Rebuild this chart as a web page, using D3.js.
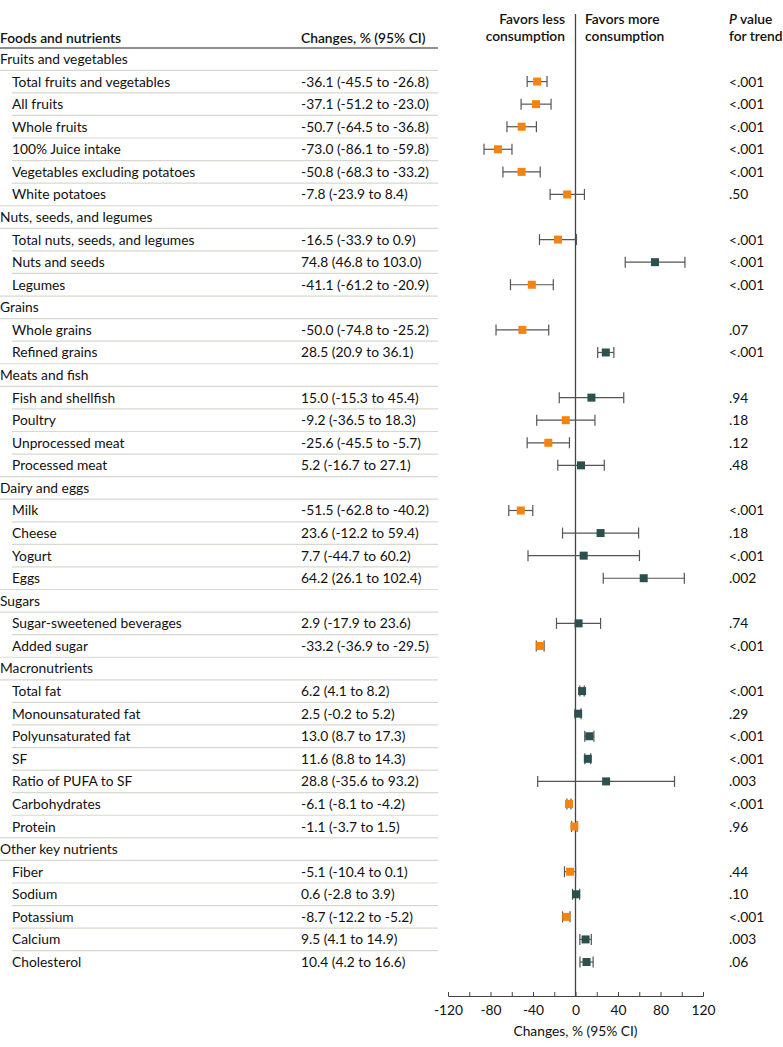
<!DOCTYPE html>
<html><head><meta charset="utf-8">
<script src="https://cdn.jsdelivr.net/npm/d3@7"></script>
<style>
body{margin:0;background:#fff;}
svg text{font-family:Lato,"Open Sans",sans-serif;fill:#111;}
</style></head>
<body><svg id="c" width="783" height="1047"></svg>
<script>
const labels = ["Fruits and vegetables","Total fruits and vegetables","All fruits","Whole fruits","100% Juice intake","Vegetables excluding potatoes","White potatoes",
"Nuts, seeds, and legumes","Total nuts, seeds, and legumes","Nuts and seeds","Legumes",
"Grains","Whole grains","Refined grains",
"Meats and fish","Fish and shellfish","Poultry","Unprocessed meat","Processed meat",
"Dairy and eggs","Milk","Cheese","Yogurt","Eggs",
"Sugars","Sugar-sweetened beverages","Added sugar",
"Macronutrients","Total fat","Monounsaturated fat","Polyunsaturated fat","SF","Ratio of PUFA to SF","Carbohydrates","Protein",
"Other key nutrients","Fiber","Sodium","Potassium","Calcium","Cholesterol"];
const isHeader = [1,0,0,0,0,0,0, 1,0,0,0, 1,0,0, 1,0,0,0,0, 1,0,0,0,0, 1,0,0, 1,0,0,0,0,0,0,0, 1,0,0,0,0,0];
const est = [null,-36.1,-37.1,-50.7,-73.0,-50.8,-7.8, null,-16.5,74.8,-41.1, null,-50.0,28.5, null,15.0,-9.2,-25.6,5.2, null,-51.5,23.6,7.7,64.2, null,2.9,-33.2, null,6.2,2.5,13.0,11.6,28.8,-6.1,-1.1, null,-5.1,0.6,-8.7,9.5,10.4];
const lo = [null,-45.5,-51.2,-64.5,-86.1,-68.3,-23.9, null,-33.9,46.8,-61.2, null,-74.8,20.9, null,-15.3,-36.5,-45.5,-16.7, null,-62.8,-12.2,-44.7,26.1, null,-17.9,-36.9, null,4.1,-0.2,8.7,8.8,-35.6,-8.1,-3.7, null,-10.4,-2.8,-12.2,4.1,4.2];
const hi = [null,-26.8,-23.0,-36.8,-59.8,-33.2,8.4, null,0.9,103.0,-20.9, null,-25.2,36.1, null,45.4,18.3,-5.7,27.1, null,-40.2,59.4,60.2,102.4, null,23.6,-29.5, null,8.2,5.2,17.3,14.3,93.2,-4.2,1.5, null,0.1,3.9,-5.2,14.9,16.6];
const pvals = [null,"<.001","<.001","<.001","<.001","<.001",".50", null,"<.001","<.001","<.001", null,".07","<.001", null,".94",".18",".12",".48", null,"<.001",".18","<.001",".002", null,".74","<.001", null,"<.001",".29","<.001","<.001",".003","<.001",".96", null,".44",".10","<.001",".003",".06"];
const xTicks = [-120,-100,-80,-60,-40,-20,0,20,40,60,80,100,120];
const xTickLabels = [-120,-80,-40,0,40,80,120];

const svg = d3.select("#c");
const FS = 13.8;
const rows = labels.map((l,i)=>({label:l,header:!!isHeader[i],est:est[i],lo:lo[i],hi:hi[i],p:pvals[i],i}));
const y = d3.scalePoint().domain(d3.range(rows.length)).range([59, 962]);
const step = y.step();
const x = d3.scaleLinear().domain([-120,120]).range([448,703]);
const ORANGE = "#f5830f", TEAL = "#2c504d";

// header
const hdr = svg.append("g").style("font-size", FS+"px").style("font-weight",600);
hdr.append("text").attr("x",0).attr("y",43).text("Foods and nutrients");
hdr.append("text").attr("x",301).attr("y",43).text("Changes, % (95% CI)");
hdr.append("text").attr("x",565).attr("y",24).attr("text-anchor","end").text("Favors less");
hdr.append("text").attr("x",565).attr("y",41).attr("text-anchor","end").text("consumption");
hdr.append("text").attr("x",585).attr("y",24).text("Favors more");
hdr.append("text").attr("x",585).attr("y",41).text("consumption");
const pt = hdr.append("text").attr("x",729).attr("y",24);
pt.append("tspan").style("font-style","italic").text("P");
pt.append("tspan").text(" value");
hdr.append("text").attr("x",729).attr("y",41).text("for trend");
svg.append("line").attr("x1",0).attr("x2",438).attr("y1",48).attr("y2",48).attr("stroke","#222").attr("stroke-width",1.2);

// separators
rows.forEach((r,i)=>{
  if(i===rows.length-1) return;
  const next = rows[i+1];
  const yy = y(i)+step/2;
  const x1 = (r.header || next.header) ? 0 : 12;
  svg.append("line").attr("x1",x1).attr("x2",438).attr("y1",yy).attr("y2",yy).attr("stroke","#d8d8cf").attr("stroke-width",1.2);
});

// labels
const tg = svg.append("g").style("font-size",FS+"px");
tg.selectAll("text.lab").data(rows).join("text").attr("class","lab")
  .attr("x",d=>d.header?0:12).attr("y",d=>y(d.i)).attr("dy","0.36em").text(d=>d.label);
const items = rows.filter(d=>!d.header);
tg.selectAll("text.val").data(items).join("text").attr("class","val")
  .attr("x",301).attr("y",d=>y(d.i)).attr("dy","0.36em")
  .text(d=>`${d.est.toFixed(1)} (${d.lo.toFixed(1)} to ${d.hi.toFixed(1)})`);
tg.selectAll("text.p").data(items).join("text").attr("class","p")
  .attr("x",729).attr("y",d=>y(d.i)).attr("dy","0.36em").text(d=>d.p);

// zero line
svg.append("line").attr("x1",x(0)).attr("x2",x(0)).attr("y1",14).attr("y2",996).attr("stroke","#444").attr("stroke-width",1.3);

// CIs
const ci = svg.append("g").attr("stroke","#555").attr("stroke-width",1.2);
ci.selectAll("line.ci").data(items).join("line").attr("class","ci")
  .attr("x1",d=>x(d.lo)).attr("x2",d=>x(d.hi)).attr("y1",d=>y(d.i)).attr("y2",d=>y(d.i));
ci.selectAll("line.c1").data(items).join("line").attr("class","c1")
  .attr("x1",d=>x(d.lo)).attr("x2",d=>x(d.lo)).attr("y1",d=>y(d.i)-5.5).attr("y2",d=>y(d.i)+5.5);
ci.selectAll("line.c2").data(items).join("line").attr("class","c2")
  .attr("x1",d=>x(d.hi)).attr("x2",d=>x(d.hi)).attr("y1",d=>y(d.i)-5.5).attr("y2",d=>y(d.i)+5.5);
svg.append("g").selectAll("rect").data(items).join("rect")
  .attr("x",d=>x(d.est)-4).attr("y",d=>y(d.i)-4).attr("width",8).attr("height",8)
  .attr("fill",d=>d.est<0?ORANGE:TEAL);

// axis
const ax = d3.axisBottom(x).tickValues(xTicks).tickSize(-4)
  .tickFormat(d=>xTickLabels.includes(d)?d:"");
const ag = svg.append("g").attr("transform","translate(0,996)").call(ax);
ag.select(".domain").attr("stroke","#444");
ag.selectAll(".tick line").attr("stroke","#444");
ag.selectAll(".tick text").attr("y",9).style("font-size",FS+"px").style("font-family","Lato,sans-serif").attr("fill","#111");
svg.append("text").attr("x",x(0)).attr("y",1036).attr("text-anchor","middle").style("font-size",FS+"px").text("Changes, % (95% CI)");
</script></body></html>
